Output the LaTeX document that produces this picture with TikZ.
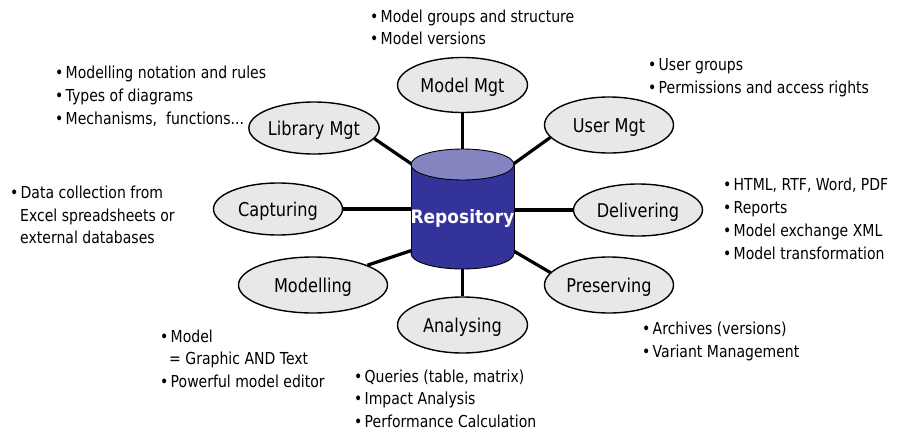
\documentclass[tikz,border=0pt]{standalone}
\usepackage{fontspec}
\setmainfont{DejaVu Sans}[FakeStretch=0.85]
\newfontfamily\repofont{DejaVu Sans}[FakeStretch=0.92]
\usetikzlibrary{shapes.geometric}
\definecolor{procfill}{HTML}{E8E8E8}
\definecolor{cylbody}{HTML}{333399}
\definecolor{cyltop}{HTML}{8484C0}
\newcommand\bul{\makebox[10.5pt][l]{•}}
\tikzset{
  proc/.style={ellipse, draw=black, line width=1.4pt, fill=procfill, inner sep=0pt,
    text height=14pt, text depth=0pt, font=\fontsize{19}{22}\selectfont},
  note/.style={anchor=base west, inner sep=0pt, font=\fontsize{16.5}{22}\selectfont},
  link/.style={line width=3.2pt},
  cylline/.style={line width=0.9pt, draw=black},
}
\begin{document}
\begin{tikzpicture}[x=1pt, y=-1pt]
\useasboundingbox (0,0) rectangle (908,437);
% process ellipses
\node[proc, minimum width=130pt, minimum height=55pt] (model) at (462.5,85) {Model Mgt};
\node[proc, minimum width=129pt, minimum height=56pt] (user) at (609,125) {User Mgt};
\node[proc, minimum width=129pt, minimum height=52pt] (lib) at (314,128) {Library Mgt};
\node[proc, minimum width=129pt, minimum height=52pt] (capt) at (278,209) {Capturing};
\node[proc, minimum width=129pt, minimum height=52pt] (delv) at (638,210) {Delivering};
\node[proc, minimum width=149pt, minimum height=56pt] (modl) at (313,285) {Modelling};
\node[proc, minimum width=129pt, minimum height=56pt] (pres) at (609,285) {Preserving};
\node[proc, minimum width=130pt, minimum height=56pt] (anal) at (462.5,325) {Analysing};
% attachment points on the repository
\coordinate (rTL) at (413,165);
\coordinate (rTR) at (512,165);
\coordinate (rL) at (413,209);
\coordinate (rR) at (512,210);
\coordinate (rBL) at (413,250);
\coordinate (rBR) at (512,250);
\coordinate (rT) at (462.5,152);
\coordinate (rB) at (462.5,266);
% connectors
\draw[link] (model.south) -- (rT);
\draw[link] (lib.-10) -- (rTL);
\draw[link] (user.192) -- (rTR);
\draw[link] (capt.east) -- (rL);
\draw[link] (delv.west) -- (rR);
\draw[link] (modl.20) -- (rBL);
\draw[link] (pres.168) -- (rBR);
\draw[link] (anal.north) -- (rB);
% repository cylinder
\filldraw[cylline, fill=cylbody] (462.5,253.5) ellipse [x radius=51.5, y radius=15.5];
\fill[cylbody] (411,164.5) rectangle (514,253.5);
\draw[cylline] (411,164.5) -- (411,253.5);
\draw[cylline] (514,164.5) -- (514,253.5);
\filldraw[cylline, fill=cyltop] (462.5,164.5) ellipse [x radius=51.5, y radius=15.5];
\node[inner sep=0pt, text=white, font=\repofont\bfseries\fontsize{18.5}{22}\selectfont] (repo) at (462.5,218) {Repository};
% notes
\node[note] (n1a) at (370,22) {\bul Model groups and structure};
\node[note] (n1b) at (370,44) {\bul Model versions};
\node[note] (n2a) at (55,78) {\bul Modelling notation and rules};
\node[note] (n2b) at (55,101) {\bul Types of diagrams};
\node[note] (n2c) at (55,124) {\bul Mechanisms,\ \ functions...};
\node[note] (n3a) at (648,70) {\bul User groups};
\node[note] (n3b) at (648,93) {\bul Permissions and access rights};
\node[note] (n4a) at (10,198) {\bul Data collection from};
\node[note] (n4b) at (20,221) {Excel spreadsheets or};
\node[note] (n4c) at (20,243) {external databases};
\node[note] (n5a) at (723,190) {\bul HTML, RTF, Word, PDF};
\node[note] (n5b) at (723,213) {\bul Reports};
\node[note] (n5c) at (723,236) {\bul Model exchange XML};
\node[note] (n5d) at (723,259) {\bul Model transformation};
\node[note] (n6a) at (642,334) {\bul Archives (versions)};
\node[note] (n6b) at (642,357) {\bul Variant Management};
\node[note] (n7a) at (160,342) {\bul Model};
\node[note] (n7b) at (169,364) {= Graphic AND Text};
\node[note] (n7c) at (160,387) {\bul Powerful model editor};
\node[note] (n8a) at (354,382) {\bul Queries (table, matrix)};
\node[note] (n8b) at (354,404) {\bul Impact Analysis};
\node[note] (n8c) at (354,427) {\bul Performance Calculation};
\end{tikzpicture}
\end{document}
